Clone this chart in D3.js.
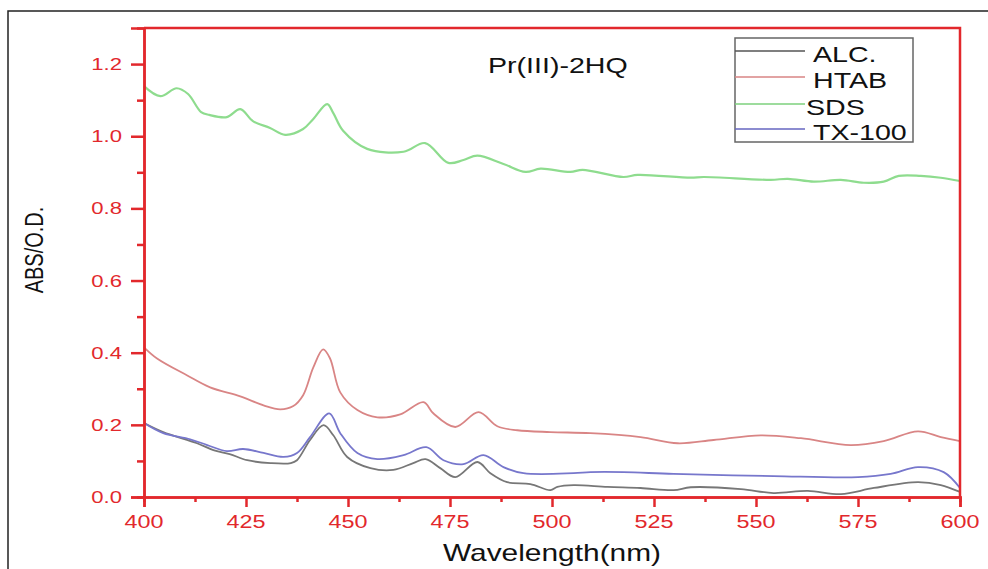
<!DOCTYPE html>
<html>
<head>
<meta charset="utf-8">
<script src="https://cdn.jsdelivr.net/npm/d3@7"></script>
<style>
  body { margin: 0; background: #fff; }
  svg { display: block; font-family: Arial, "Liberation Sans", sans-serif; }
</style>
</head>
<body>
<svg id="chart" width="988" height="569"></svg>
<script>
// spectra: [wavelength nm, absorbance]
const sds = [[400,1.139],[404,1.111],[408,1.133],[410.8,1.117],[414,1.067],[416,1.059],[420.3,1.053],[423.6,1.075],
  [426.7,1.042],[430.9,1.023],[434.6,1.004],[439,1.020],[441.5,1.048],[444.9,1.089],[446.4,1.064],[448.8,1.015],
  [454.7,0.965],[463.6,0.957],[468.9,0.981],[474.6,0.926],[478.3,0.934],[481.7,0.946],[488.1,0.923],[493.5,0.901],
  [497.2,0.910],[504.5,0.901],[507.5,0.907],[517.5,0.887],[521,0.893],[534,0.885],[537.2,0.887],[553.6,0.879],
  [557.8,0.882],[564.2,0.874],[570.8,0.879],[576.4,0.871],[581.3,0.874],[585,0.890],[590.4,0.890],[595.3,0.885],[600,0.876]];

const htab = [[400,0.415],[403.2,0.384],[410.6,0.337],[416.2,0.304],[423.6,0.279],[429.3,0.254],[433.4,0.243],
  [436.6,0.252],[439,0.282],[441.5,0.359],[443.9,0.409],[445.6,0.384],[448.1,0.290],[452.3,0.241],[457.2,0.221],
  [462.8,0.229],[468.5,0.263],[470.9,0.232],[476.3,0.194],[482,0.235],[486.6,0.196],[491.5,0.185],[499.6,0.180],
  [509.4,0.177],[521.7,0.166],[530.8,0.149],[539.6,0.158],[551.2,0.171],[561,0.163],[573.2,0.144],[581.3,0.155],
  [589.7,0.182],[595.3,0.166],[600,0.155]];

const tx100 = [[400,0.205],[404.7,0.177],[411.3,0.160],[415.5,0.144],[420.3,0.127],[424.3,0.133],[429.3,0.122],
  [434.2,0.111],[437.5,0.122],[440.7,0.166],[445.4,0.232],[448.1,0.177],[452.3,0.122],[457.2,0.105],[463.6,0.116],
  [469.2,0.138],[473.4,0.102],[478.3,0.091],[483.2,0.116],[488.1,0.083],[493,0.066],[505.3,0.066],[509.4,0.069],
  [517.5,0.069],[529.8,0.064],[554.3,0.058],[575,0.055],[583,0.064],[589.7,0.083],[596,0.069],[600,0.025]];

const alc = [[400,0.205],[404.7,0.180],[413,0.149],[417,0.130],[421,0.119],[425.3,0.102],[431,0.094],[436,0.094],
  [437.5,0.102],[440.7,0.158],[444,0.199],[446.4,0.171],[449.8,0.111],[455.5,0.080],[461.1,0.075],[466,0.094],
  [469,0.105],[472.6,0.080],[476.3,0.055],[481.7,0.097],[484.9,0.066],[489,0.041],[494.7,0.036],[499.6,0.019],
  [501.3,0.028],[505.3,0.033],[513.6,0.028],[521.7,0.025],[529.8,0.019],[534,0.027],[546.3,0.022],[554.3,0.011],
  [562.7,0.017],[570.8,0.008],[578.9,0.025],[589.7,0.041],[595.3,0.033],[600,0.014]];

const seriesNames = ["ALC.", "HTAB", "SDS", "TX-100"];
const seriesData = [alc, htab, sds, tx100];
const seriesColors = ["#777777", "#d98585", "#8edc8e", "#7777cc"];
const legendColors = ["#555555", "#d98585", "#7cd07c", "#6666c0"];

const xTicks = [400, 425, 450, 475, 500, 525, 550, 575, 600];
const yTicks = [0.0, 0.2, 0.4, 0.6, 0.8, 1.0, 1.2];

const red = "#e2282c";
const sx = 1.3; // the picture is stretched sideways, so is the text

const svg = d3.select("#chart");

const x = d3.scaleLinear().domain([400, 600]).range([144, 960]);
const y = d3.scaleLinear().domain([0, 1.3]).range([497, 28]);

// outer frame
svg.append("path")
  .attr("d", "M8,569 L8,11 L988,11")
  .attr("fill", "none").attr("stroke", "#222").attr("stroke-width", 1.5);

// curves
const line = d3.line()
  .x(d => x(d[0]))
  .y(d => y(d[1]))
  .curve(d3.curveCatmullRom.alpha(0.5));

svg.selectAll(".spec")
  .data(seriesData)
  .join("path")
  .attr("class", "spec")
  .attr("d", line)
  .attr("fill", "none")
  .attr("stroke", (d, i) => seriesColors[i])
  .attr("stroke-width", (d, i) => i == 2 ? 2.2 : 1.8);

// red frame top + right
svg.append("path")
  .attr("d", `M${x(400)},${y(1.3)} L${x(600)},${y(1.3)} L${x(600)},${y(0)}`)
  .attr("fill", "none").attr("stroke", red).attr("stroke-width", 2.5);

// x axis
const xAxis = svg.append("g")
  .attr("transform", `translate(0,${y(0)})`)
  .call(d3.axisBottom(x).tickValues(d3.range(412.5, 600, 25)).tickSize(5).tickFormat(""));
xAxis.append("g")
  .call(d3.axisBottom(x).tickValues(xTicks).tickSize(10).tickFormat(""));
xAxis.selectAll("path, line").attr("stroke", red).attr("stroke-width", 2.5);

svg.selectAll(".xlab")
  .data(xTicks)
  .join("text")
  .attr("class", "xlab")
  .attr("transform", d => `translate(${x(d)},528) scale(${sx},1)`)
  .attr("text-anchor", "middle")
  .attr("font-size", 18)
  .attr("fill", red)
  .text(d => d);

// y axis
const yAxis = svg.append("g")
  .attr("transform", `translate(${x(400)},0)`)
  .call(d3.axisLeft(y).tickValues(d3.range(0.1, 1.3, 0.2)).tickSize(7).tickFormat(""));
yAxis.append("g")
  .call(d3.axisLeft(y).tickValues(yTicks).tickSize(13).tickFormat(""));
yAxis.selectAll("path, line").attr("stroke", red).attr("stroke-width", 2.5);

svg.selectAll(".ylab")
  .data(yTicks)
  .join("text")
  .attr("class", "ylab")
  .attr("transform", d => `translate(122,${y(d) + 6}) scale(${sx},1)`)
  .attr("text-anchor", "end")
  .attr("font-size", 17)
  .attr("fill", red)
  .text(d => d3.format(".1f")(d));

// axis titles
svg.append("text")
  .attr("transform", `translate(552,561) scale(${sx},1)`)
  .attr("text-anchor", "middle")
  .attr("font-size", 23)
  .attr("fill", "#111")
  .text("Wavelength(nm)");

svg.append("text")
  .attr("transform", `translate(43,250) scale(${sx},1) rotate(-90)`)
  .attr("text-anchor", "middle")
  .attr("font-size", 20)
  .attr("fill", "#111")
  .text("ABS/O.D.");

// title
svg.append("text")
  .attr("transform", `translate(488,73) scale(${sx},1)`)
  .attr("font-size", 22)
  .attr("fill", "#111")
  .text("Pr(III)-2HQ");

// legend
const rowY = [51, 77, 104, 129];
const textX = [813, 813, 806, 813];
const legend = svg.append("g");
legend.append("rect")
  .attr("x", 735).attr("y", 38).attr("width", 178).attr("height", 104)
  .attr("fill", "#fff").attr("stroke", "#666").attr("stroke-width", 1.5);

legend.selectAll(".lgline")
  .data(seriesNames)
  .join("line")
  .attr("class", "lgline")
  .attr("x1", 735).attr("x2", 805)
  .attr("y1", (d, i) => rowY[i]).attr("y2", (d, i) => rowY[i])
  .attr("stroke", (d, i) => legendColors[i])
  .attr("stroke-width", 1.5);

legend.selectAll(".lgtext")
  .data(seriesNames)
  .join("text")
  .attr("class", "lgtext")
  .attr("transform", (d, i) => `translate(${textX[i]},${rowY[i] + 11}) scale(${sx},1)`)
  .attr("font-size", 22)
  .attr("fill", "#111")
  .text(d => d);
</script>
</body>
</html>
